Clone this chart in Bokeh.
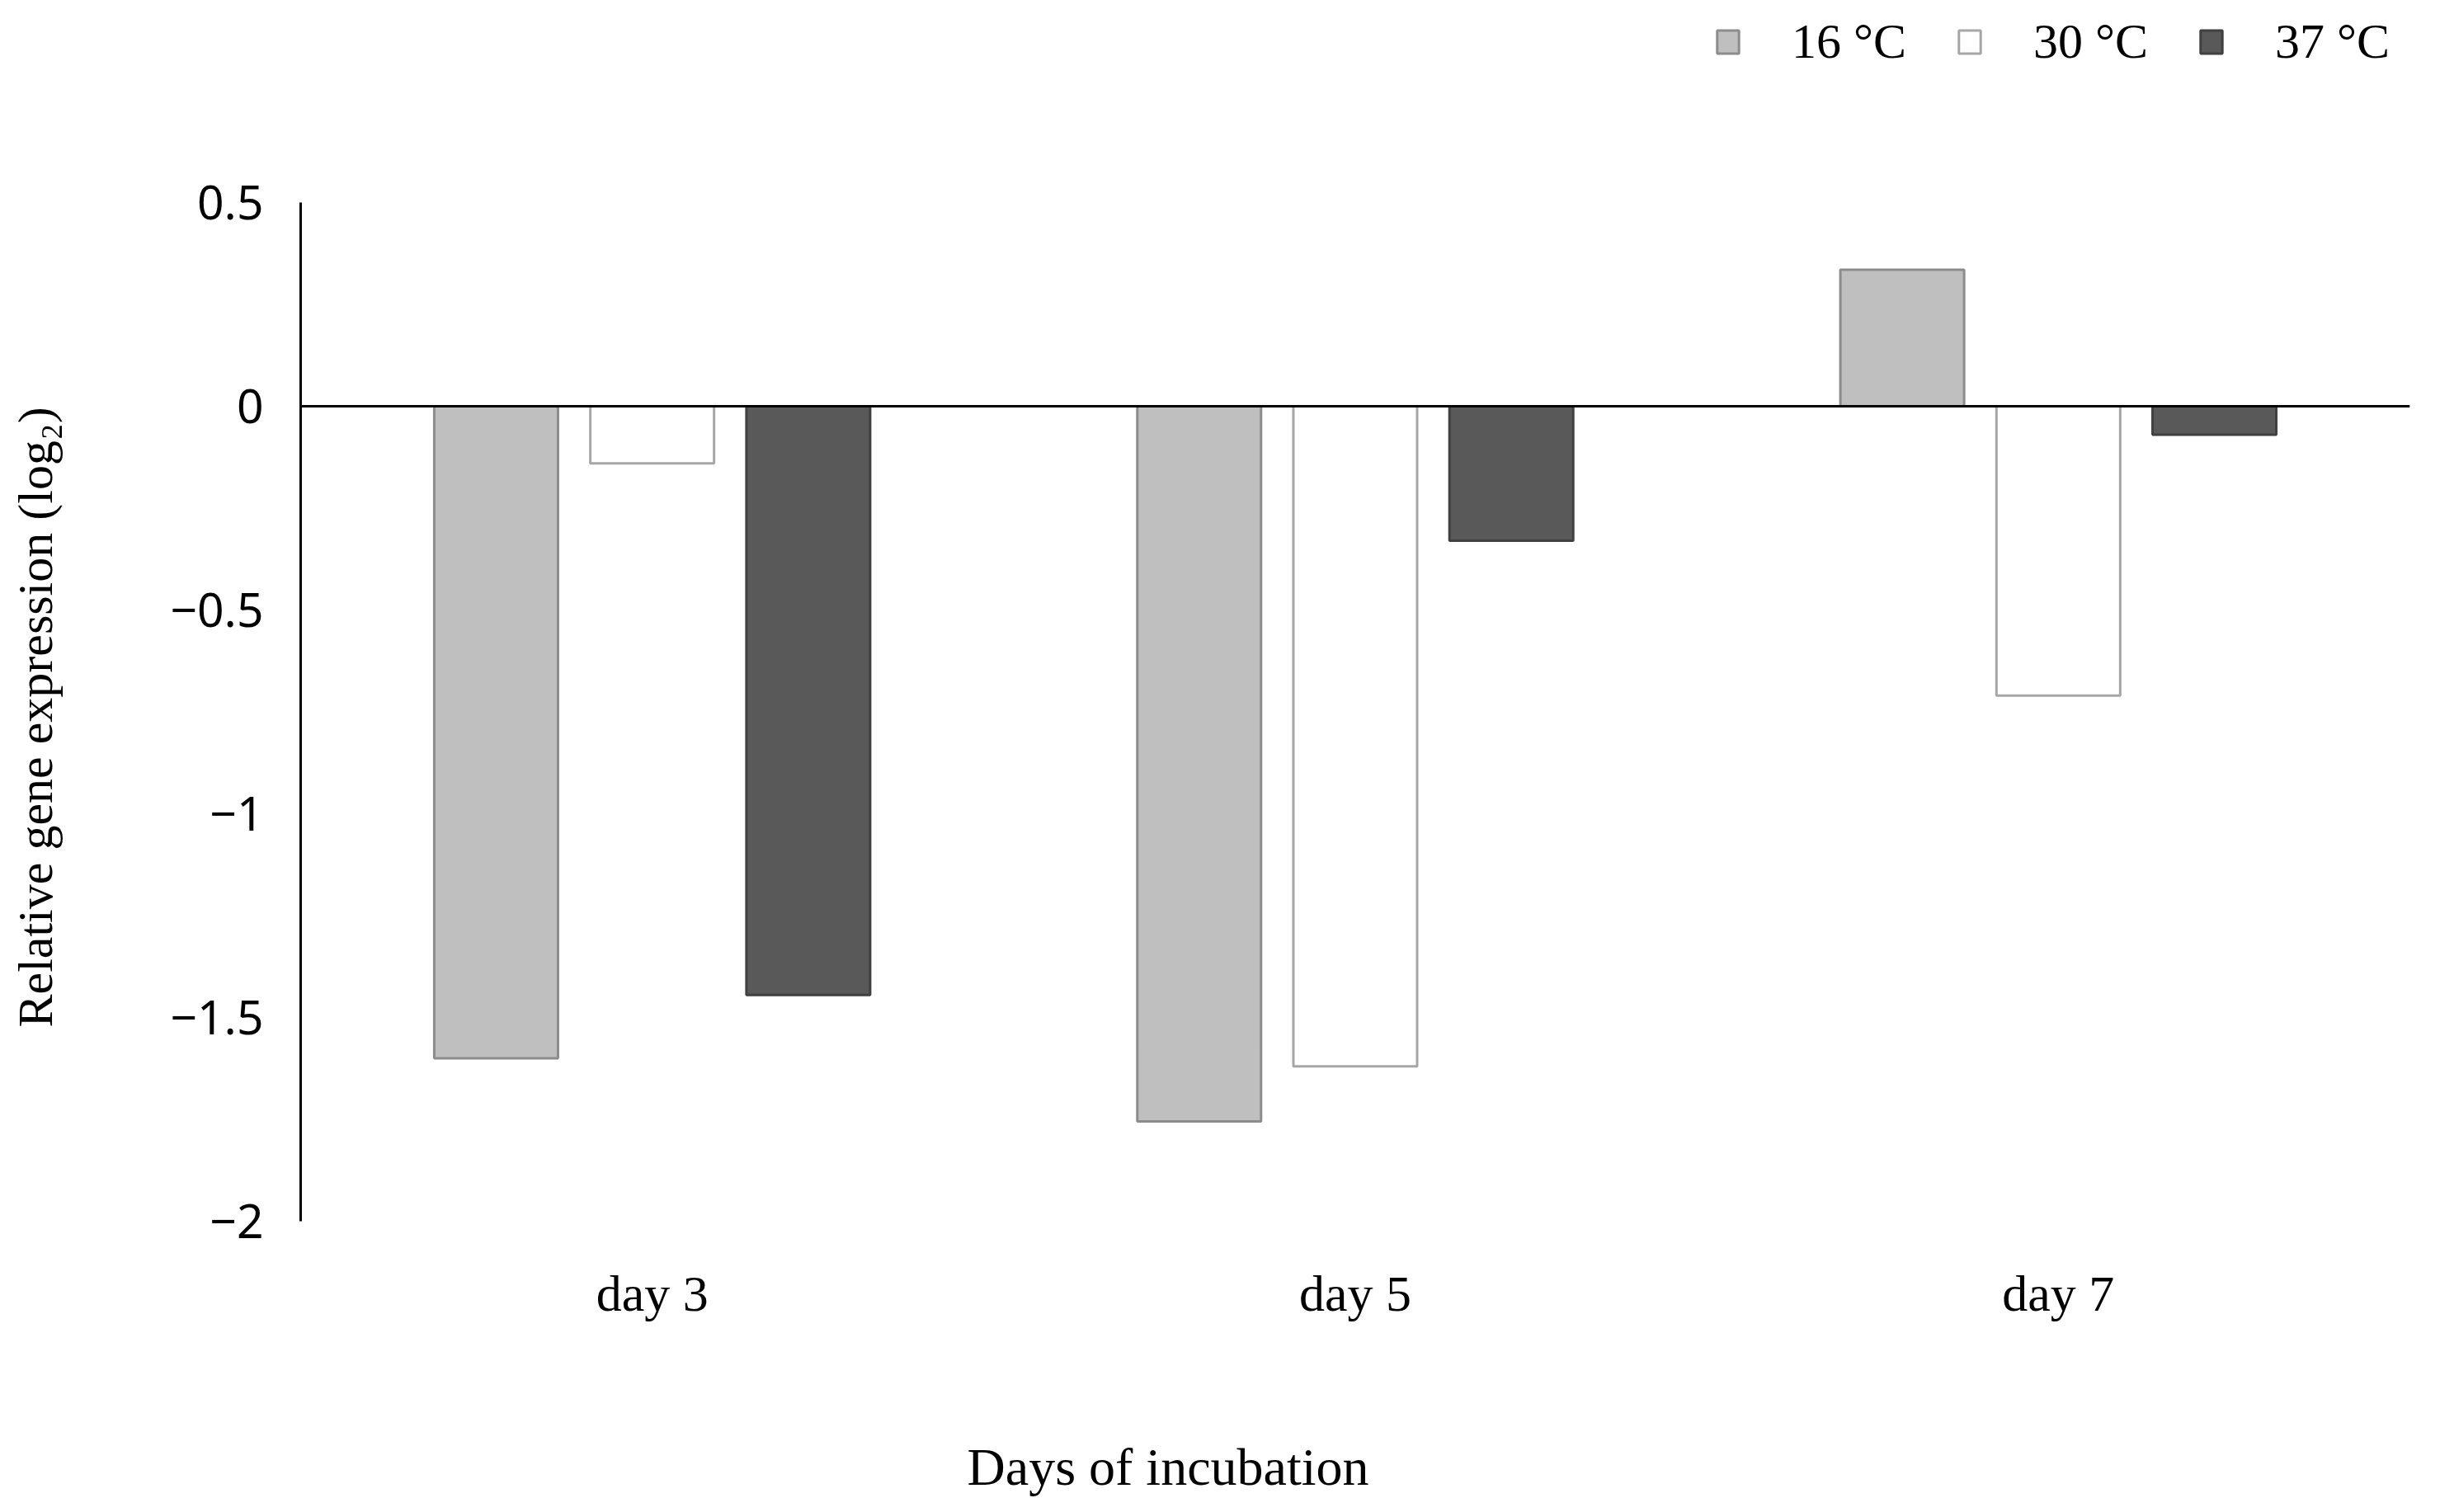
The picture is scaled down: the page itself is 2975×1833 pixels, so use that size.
from bokeh.plotting import figure
from bokeh.models import (ColumnDataSource, FactorRange, Range1d, FixedTicker, Span,
                          Legend, LegendItem, Title, CategoricalAxis, LinearAxis)
from bokeh.transform import dodge
from bokeh.embed import file_html
from bokeh.resources import INLINE

# ---- data ----
days = ["day 3", "day 5", "day 7"]
series_names = ["16 °C", "30 °C", "37 °C"]
vals_16 = [-1.60, -1.755, 0.335]
vals_30 = [-0.14, -1.62, -0.71]
vals_37 = [-1.445, -0.33, -0.07]
y_ticks = [-2, -1.5, -1, -0.5, 0, 0.5]
y_tick_labels = ["\u22122", "\u22121.5", "\u22121", "\u22120.5", "0", "0.5"]
y_title = "Relative gene expression (log\u2082)"
x_title = "Days of incubation"

fills = ["#bfbfbf", "#ffffff", "#595959"]
lines = ["#8c8c8c", "#a6a6a6", "#404040"]
offsets = [-0.222, 0.0, 0.222]
bar_w = 0.176

# ---- layout (pixels in the canvas) ----
W, H = 2959, 1817
frame_top = 5          # frame extends to the top so the legend can sit inside it
axis_top_px = 245      # where the 0.5 end of the y axis sits
frame_bottom = 1480
y_lo, y_hi = min(y_ticks), max(y_ticks)
y_max = y_hi + (axis_top_px - frame_top) * (y_hi - y_lo) / (frame_bottom - axis_top_px)

src = ColumnDataSource(dict(day=days, v16=vals_16, v30=vals_30, v37=vals_37))

p = figure(width=W, height=H, x_range=FactorRange(*days), y_range=Range1d(y_lo, y_max),
           output_backend="svg", toolbar_location=None,
           min_border_left=364, min_border_right=38, min_border_top=frame_top,
           min_border_bottom=H - frame_bottom)
p.x_range.range_padding = 0
p.outline_line_color = None
p.xgrid.visible = False
p.ygrid.visible = False
p.background_fill_color = "white"
p.border_fill_color = "white"

renderers = []
for col, off, fc, lc in zip(["v16", "v30", "v37"], offsets, fills, lines):
    r = p.vbar(x=dodge("day", off, range=p.x_range), top=col, bottom=0, width=bar_w,
               source=src, fill_color=fc, line_color=lc, line_width=3)
    renderers.append(r)

p.add_layout(Span(location=0, dimension="width", line_color="black", line_width=3))

# y axis
ya = p.yaxis[0]
ya.bounds = (y_lo, y_hi)
ya.ticker = FixedTicker(ticks=y_ticks)
ya.major_label_overrides = {t: l for t, l in zip(y_ticks, y_tick_labels)}
ya.axis_line_color = "black"
ya.axis_line_width = 3
ya.major_tick_line_color = None
ya.minor_tick_line_color = None
ya.major_tick_out = 0
ya.major_tick_in = 0
ya.major_label_standoff = 45
ya.major_label_text_font = "Noto Sans"
ya.major_label_text_font_size = "57px"
ya.major_label_text_color = "black"

# empty spacer axis between the y tick labels and the y title
p.extra_y_ranges = {"yspacer": Range1d(0, 1)}
yspacer = LinearAxis(y_range_name="yspacer", ticker=FixedTicker(ticks=[0.5], minor_ticks=[]),
                     axis_line_color=None, major_tick_line_color=None, minor_tick_line_color=None,
                     major_tick_in=0, major_tick_out=128, minor_tick_out=0, minor_tick_in=0,
                     major_label_standoff=0, major_label_overrides={0.5: ""},
                     major_label_text_font_size="1px", major_label_text_color=None)
p.add_layout(yspacer, "left")

ty = Title(text=y_title, align="left", offset=235, text_font="Liberation Serif",
           text_font_size="60px", text_font_style="normal", text_color="black", standoff=0)
p.add_layout(ty, "left")

# x axis (category labels)
xa = p.xaxis[0]
xa.axis_line_color = None
xa.major_tick_line_color = None
xa.minor_tick_line_color = None
xa.major_tick_out = 0
xa.major_tick_in = 0
xa.major_label_standoff = 53
xa.major_label_text_font = "Liberation Serif"
xa.major_label_text_font_size = "62px"
xa.major_label_text_color = "black"

# empty spacer axis between the category labels and the x title
p.extra_x_ranges = {"spacer": FactorRange("s")}
spacer = CategoricalAxis(x_range_name="spacer",
                         axis_line_color=None, major_tick_line_color=None, minor_tick_line_color=None,
                         major_tick_in=0, major_tick_out=136, minor_tick_out=0, minor_tick_in=0,
                         major_label_standoff=0, major_label_overrides={"s": ""},
                         major_label_text_font_size="1px", major_label_text_color=None)
p.add_layout(spacer, "below")

t = Title(text=x_title, align="left", offset=808, text_font="Liberation Serif",
          text_font_size="64px", text_font_style="normal", text_color="black", standoff=0)
p.add_layout(t, "below")

legend = Legend(items=[LegendItem(label=n, renderers=[r]) for n, r in zip(series_names, renderers)],
                orientation="horizontal", location=(1714, 1395),
                glyph_width=33, glyph_height=35, label_height=35, label_standoff=61, spacing=60,
                padding=0, margin=0, border_line_color=None, background_fill_alpha=0,
                label_text_font="Liberation Serif", label_text_font_size="60px",
                label_text_color="black")
p.add_layout(legend, "center")

open("out.html", "w").write(file_html(p, INLINE))
